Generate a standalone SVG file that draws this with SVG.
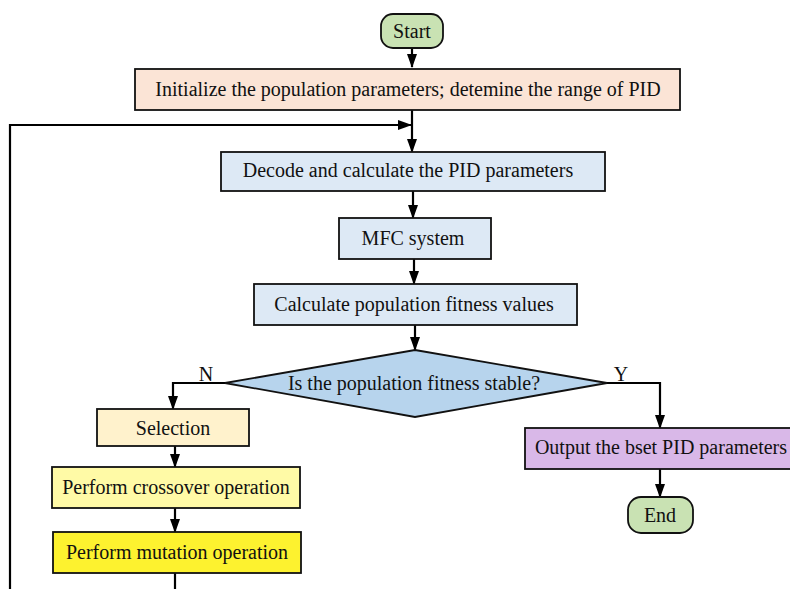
<svg xmlns="http://www.w3.org/2000/svg" width="790" height="589" viewBox="0 0 790 589">
<defs>
<marker id="ah" markerWidth="14" markerHeight="12" refX="13" refY="6" orient="auto" markerUnits="userSpaceOnUse" viewBox="0 0 14 12">
<path d="M0,1 L14,6 L0,11 Z" fill="#000"/>
</marker>
<style>
text{font-family:"Liberation Serif","Times New Roman",serif;font-size:20px;fill:#111;text-anchor:middle}
.b{stroke:#111;stroke-width:1.8}
.c{fill:none;stroke:#000;stroke-width:2.2}
.a{marker-end:url(#ah)}
</style>
</defs>
<rect width="790" height="589" fill="#fff"/>
<g id="connectors">
<path class="c a" d="M412,48 V67"/>
<path class="c a" d="M412,110 V152"/>
<path class="c a" d="M10,589 V125 H411"/>
<path class="c a" d="M413,191 V218"/>
<path class="c a" d="M414,259 V284"/>
<path class="c a" d="M415,325 V350"/>
<path class="c a" d="M225,383 H173 V409"/>
<path class="c a" d="M175,446 V467"/>
<path class="c a" d="M175,508 V532"/>
<path class="c" d="M175,573 V589"/>
<path class="c a" d="M607,383 H660 V428"/>
<path class="c a" d="M660,469 V497"/>
<text x="206" y="381">N</text>
<text x="621" y="381">Y</text>
</g>
<g id="start">
<rect class="b" x="381" y="14" width="62" height="34" rx="12" fill="#c9e2b3"/>
<text x="412" y="38">Start</text>
</g>
<g id="init">
<rect class="b" x="135" y="69" width="545" height="41" fill="#fbe4d6"/>
<text x="408" y="96">Initialize the population parameters; detemine the range of PID</text>
</g>
<g id="decode">
<rect class="b" x="221" y="152" width="384" height="39" fill="#dde9f5"/>
<text x="408" y="177">Decode and calculate the PID parameters</text>
</g>
<g id="mfc">
<rect class="b" x="339" y="218" width="152" height="41" fill="#dde9f5"/>
<text x="413" y="245">MFC system</text>
</g>
<g id="fitness">
<rect class="b" x="254" y="284" width="323" height="41" fill="#dde9f5"/>
<text x="414" y="311">Calculate population fitness values</text>
</g>
<g id="decision">
<polygon class="b" points="415,350 607,383 415,417 225,383" fill="#b7d4ed"/>
<text x="414" y="390">Is the population fitness stable?</text>
</g>
<g id="selection">
<rect class="b" x="97" y="409" width="152" height="37" fill="#fff2cc"/>
<text x="173" y="435">Selection</text>
</g>
<g id="crossover">
<rect class="b" x="52" y="467" width="248" height="41" fill="#fffaa6"/>
<text x="176" y="494">Perform crossover operation</text>
</g>
<g id="mutation">
<rect class="b" x="53" y="532" width="248" height="41" fill="#fdf22f"/>
<text x="177" y="559">Perform mutation operation</text>
</g>
<g id="output">
<rect class="b" x="525" y="428" width="272" height="41" fill="#d9b8e8"/>
<text x="661" y="454">Output the bset PID parameters</text>
</g>
<g id="end">
<rect class="b" x="628" y="497" width="65" height="36" rx="13" fill="#c9e2b3"/>
<text x="660" y="522">End</text>
</g>
</svg>
